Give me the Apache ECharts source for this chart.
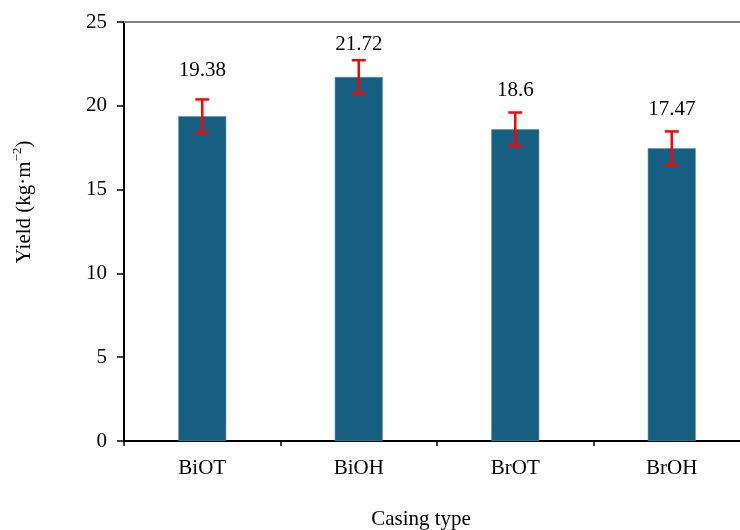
<!DOCTYPE html>
<html>
<head>
<meta charset="utf-8">
<script src="https://cdn.jsdelivr.net/npm/echarts@6/dist/echarts.min.js"></script>
<style>html,body{margin:0;padding:0;background:#fff;overflow:hidden;width:740px;height:530px}#c{width:750px;height:530px}</style>
</head>
<body>
<div id="c"></div>
<script>
const categories = ['BiOT', 'BiOH', 'BrOT', 'BrOH'];
const yieldValues = [19.38, 21.72, 18.6, 17.47];
const yieldErrors = [1, 1, 1, 1];
const yMin = 0, yMax = 25, yStep = 5;
const labelGap = [29, 16, 22, 22];

const FONT = '"Liberation Serif", "Times New Roman", serif';
const chart = echarts.init(document.getElementById('c'), null, {renderer: 'canvas'});

const errData = categories.map((c, i) => [i, yieldValues[i], yieldErrors[i]]);

chart.setOption({
  animation: false,
  backgroundColor: '#fff',
  grid: {left: 124, top: 22, right: 0, bottom: 89},
  xAxis: [{
    type: 'category',
    data: categories,
    boundaryGap: true,
    axisLine: {lineStyle: {color: '#000', width: 2}},
    axisTick: {show: true, length: 5, lineStyle: {color: '#000', width: 1.5}},
    axisLabel: {color: '#000', fontFamily: FONT, fontSize: 21, margin: 17}
  }, {
    type: 'category',
    data: categories,
    position: 'top',
    axisLine: {lineStyle: {color: '#808080', width: 2}},
    axisTick: {show: false},
    axisLabel: {show: false}
  }],
  yAxis: {
    type: 'value',
    min: yMin, max: yMax, interval: yStep,
    axisLine: {show: true, lineStyle: {color: '#000', width: 2}},
    axisTick: {show: true, length: 7, lineStyle: {color: '#000', width: 1.5}},
    axisLabel: {color: '#000', fontFamily: FONT, fontSize: 21, margin: 17},
    splitLine: {show: false}
  },
  series: [{
    type: 'bar',
    data: yieldValues,
    barWidth: 48,
    itemStyle: {color: '#175f80', borderColor: '#5f8faa', borderWidth: 0.6},
    z: 2
  }, {
    type: 'custom',
    data: errData,
    z: 5,
    renderItem: function (params, api) {
      const i = api.value(0), v = api.value(1), e = api.value(2);
      const top = api.coord([i, v + e]);
      const bot = api.coord([i, v - e]);
      const cap = 7;
      const style = {stroke: '#ff0000', lineWidth: 2.5};
      return {
        type: 'group',
        children: [
          {type: 'line', shape: {x1: top[0], y1: top[1], x2: bot[0], y2: bot[1]}, style: style},
          {type: 'line', shape: {x1: top[0] - cap, y1: top[1], x2: top[0] + cap, y2: top[1]}, style: style},
          {type: 'line', shape: {x1: bot[0] - cap, y1: bot[1], x2: bot[0] + cap, y2: bot[1]}, style: style},
          {type: 'text', x: top[0], y: top[1] - labelGap[params.dataIndex],
           style: {text: String(v), fill: '#000', font: '21px ' + FONT, textAlign: 'center', textVerticalAlign: 'middle'}}
        ]
      };
    }
  }],
  graphic: [{
    type: 'text',
    x: 421, y: 519,
    style: {text: 'Casing type', fill: '#000', font: '21px ' + FONT, textAlign: 'center', textVerticalAlign: 'middle'}
  }, {
    type: 'text',
    x: 23, y: 202,
    rotation: Math.PI / 2,
    style: {
      text: '{n|Yield (kg·m}{s|−2}{n|)}',
      textAlign: 'center', textVerticalAlign: 'middle',
      rich: {
        n: {fontFamily: FONT, fontSize: 21, fill: '#000', lineHeight: 24, verticalAlign: 'bottom'},
        s: {fontFamily: FONT, fontSize: 13, fill: '#000', lineHeight: 24, verticalAlign: 'top'}
      }
    }
  }]
});
</script>
</body>
</html>
